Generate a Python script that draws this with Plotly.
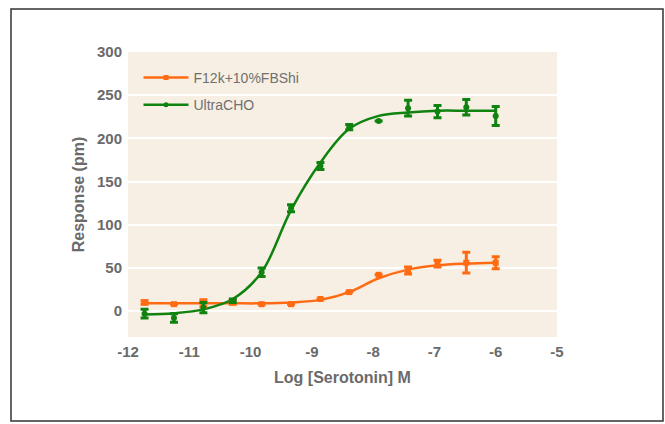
import plotly.graph_objects as go

# Log [Serotonin] M (3-fold dilutions)
log_conc = [-11.73, -11.25, -10.77, -10.29, -9.82, -9.34, -8.86, -8.39, -7.91, -7.43, -6.95, -6.48, -6.0]

# UltraCHO data
ultra_mean = [-3, -8, 4, 12, 45, 119, 168, 213, 220, 235, 231, 236, 226]
ultra_err = [5, 5, 6, 2, 5, 4, 4, 3, 0, 9, 7, 9, 11]
ultra_curve = [-4, -2.5, 2, 14, 45, 117, 172, 211, 226, 230, 232, 232, 232]

# F12k+10%FBShi data
f12_mean = [10, 8, 9, 10, 8, 8, 14, 22, 42, 47, 55, 56, 56]
f12_err = [2, 0, 4, 2, 0, 0, 0, 0, 0, 4, 4, 12, 7]
f12_curve = [9, 9, 9, 9, 9, 10, 13, 22, 38, 48, 53, 55, 56]

x_ticks = [-12, -11, -10, -9, -8, -7, -6, -5]
y_ticks = [0, 50, 100, 150, 200, 250, 300]

ORANGE = "#FF6B12"
GREEN = "#0F820F"
GRAY = "#6A6A6A"

fig = go.Figure()

# fitted curves
fig.add_trace(go.Scatter(x=log_conc, y=f12_curve, mode="lines", line=dict(color=ORANGE, width=2.5, shape="spline"),
                         showlegend=False, hoverinfo="skip"))
fig.add_trace(go.Scatter(x=log_conc, y=ultra_curve, mode="lines", line=dict(color=GREEN, width=2.5, shape="spline"),
                         showlegend=False, hoverinfo="skip"))

# data points with error bars
fig.add_trace(go.Scatter(x=log_conc, y=f12_mean, mode="markers",
                         marker=dict(symbol="square", size=6, color=ORANGE),
                         error_y=dict(type="data", array=f12_err, color=ORANGE, thickness=3, width=4),
                         showlegend=False))
fig.add_trace(go.Scatter(x=log_conc, y=ultra_mean, mode="markers",
                         marker=dict(symbol="circle", size=6, color=GREEN),
                         error_y=dict(type="data", array=ultra_err, color=GREEN, thickness=3, width=4),
                         showlegend=False))

# legend entries
fig.add_trace(go.Scatter(x=[None], y=[None], mode="lines+markers", name="F12k+10%FBShi", legendgroup="a",
                         line=dict(color=ORANGE, width=2.5), marker=dict(symbol="square", size=5, color=ORANGE)))
fig.add_trace(go.Scatter(x=[None], y=[None], mode="lines+markers", name="UltraCHO", legendgroup="b",
                         line=dict(color=GREEN, width=2.5), marker=dict(symbol="circle", size=5, color=GREEN)))

W, H = 665, 424
L, T = 128, 52
R, B = W - 557, H - 337
pw, ph = W - L - R, H - T - B

def px2paper(px, py):
    return (px - L) / pw, (H - B - py) / ph

x0, y0 = px2paper(11, 421)
x1, y1 = px2paper(663, 9)
fig.add_shape(type="rect", xref="paper", yref="paper", x0=x0, y0=y0, x1=x1, y1=y1,
              line=dict(color="#333333", width=1.5), fillcolor="rgba(0,0,0,0)", layer="below")

font_family = "Liberation Sans, Arial, sans-serif"

fig.update_layout(
    width=W, height=H,
    margin=dict(l=L, r=R, t=T, b=B),
    paper_bgcolor="white",
    plot_bgcolor="#F7EFE3",
    font=dict(family=font_family, color=GRAY),
    legend=dict(x=0.0245, y=0.965, xanchor="left", yanchor="top", bgcolor="rgba(0,0,0,0)",
                font=dict(size=14, color="#707070", family=font_family), tracegroupgap=6, itemwidth=45),
    xaxis=dict(range=[-12, -5], tickvals=x_ticks, ticktext=[str(v) for v in x_ticks],
               showgrid=False, zeroline=False, showline=False, ticks="", ticklabelstandoff=4,
               tickfont=dict(size=15, color=GRAY, family=font_family, weight="bold"),
               title=dict(text="<b>Log [Serotonin] M</b>", font=dict(size=16, color=GRAY), standoff=12)),
    yaxis=dict(range=[-30, 300], tickvals=y_ticks, showgrid=True, gridcolor="white", gridwidth=1.5,
               zeroline=False, showline=False, ticks="", ticklabelstandoff=5,
               tickfont=dict(size=15, color=GRAY, family=font_family, weight="bold"),
               title=dict(text="<b>Response (pm)</b>", font=dict(size=16, color=GRAY), standoff=8)),
)

fig.write_html("out.html", config={"displayModeBar": False},
               post_script="document.body.style.margin='0';document.body.style.overflow='hidden';")
